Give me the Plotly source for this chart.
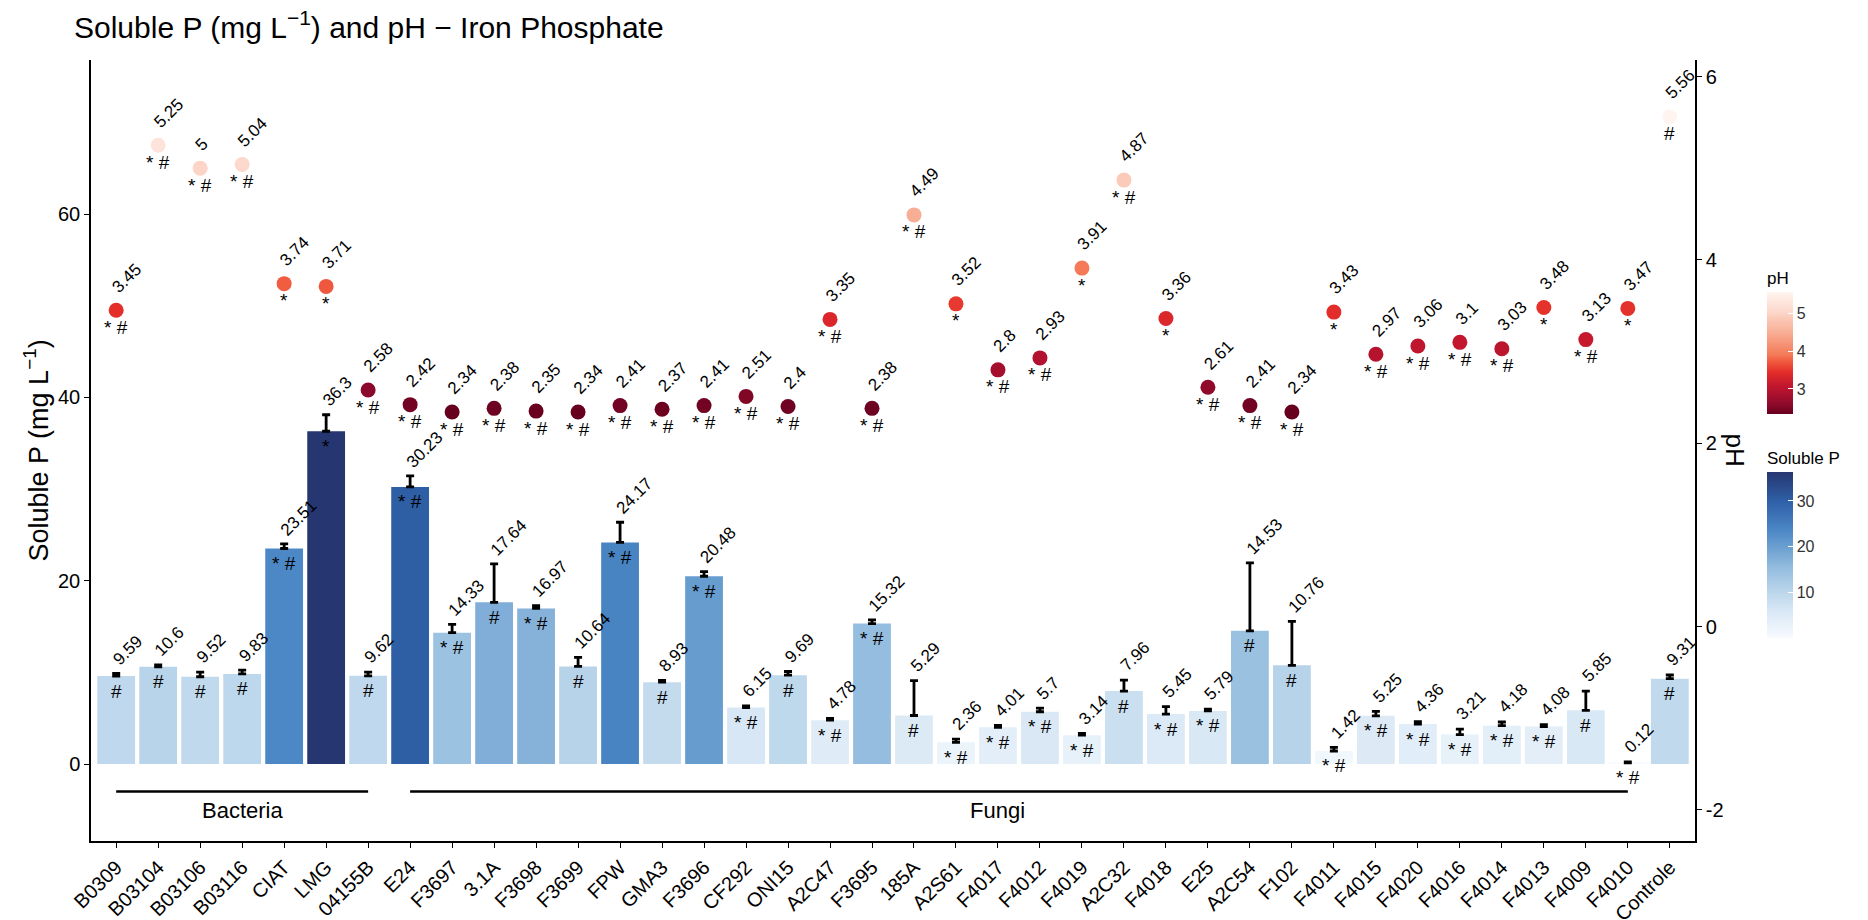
import plotly.graph_objects as go

# ---------------- data ----------------
categories = ["B0309", "B03104", "B03106", "B03116", "CIAT", "LMG", "04155B", "E24",
              "F3697", "3.1A", "F3698", "F3699", "FPW", "GMA3", "F3696", "CF292",
              "ONI15", "A2C47", "F3695", "185A", "A2S61", "F4017", "F4012", "F4019",
              "A2C32", "F4018", "E25", "A2C54", "F102", "F4011", "F4015", "F4020",
              "F4016", "F4014", "F4013", "F4009", "F4010", "Controle"]

soluble_p = [9.59, 10.6, 9.52, 9.83, 23.51, 36.3, 9.62, 30.23,
             14.33, 17.64, 16.97, 10.64, 24.17, 8.93, 20.48, 6.15,
             9.69, 4.78, 15.32, 5.29, 2.36, 4.01, 5.7, 3.14,
             7.96, 5.45, 5.79, 14.53, 10.76, 1.42, 5.25, 4.36,
             3.21, 4.18, 4.08, 5.85, 0.12, 9.31]

soluble_p_sd = [0.3, 0.2, 0.5, 0.4, 0.5, 1.8, 0.4, 1.2,
                0.9, 4.2, 0.3, 1.0, 2.2, 0.2, 0.5, 0.2,
                0.4, 0.2, 0.4, 3.8, 0.35, 0.2, 0.4, 0.2,
                1.2, 0.8, 0.2, 7.4, 4.8, 0.4, 0.5, 0.25,
                0.6, 0.4, 0.2, 2.1, 0.1, 0.4]

ph = [3.45, 5.25, 5, 5.04, 3.74, 3.71, 2.58, 2.42,
      2.34, 2.38, 2.35, 2.34, 2.41, 2.37, 2.41, 2.51,
      2.4, 3.35, 2.38, 4.49, 3.52, 2.8, 2.93, 3.91,
      4.87, 3.36, 2.61, 2.41, 2.34, 3.43, 2.97, 3.06,
      3.1, 3.03, 3.48, 3.13, 3.47, 5.56]

p_marks = ["#", "#", "#", "#", "* #", "*", "#", "* #",
           "* #", "#", "* #", "#", "* #", "#", "* #", "* #",
           "#", "* #", "* #", "#", "* #", "* #", "* #", "* #",
           "#", "* #", "* #", "#", "#", "* #", "* #", "* #",
           "* #", "* #", "* #", "#", "* #", "#"]

ph_marks = ["* #", "* #", "* #", "* #", "*", "*", "* #", "* #",
            "* #", "* #", "* #", "* #", "* #", "* #", "* #", "* #",
            "* #", "* #", "* #", "* #", "*", "* #", "* #", "*",
            "* #", "*", "* #", "* #", "* #", "*", "* #", "* #",
            "* #", "* #", "*", "* #", "*", "#"]

groups = [("Bacteria", "B0309", "04155B"), ("Fungi", "E24", "F4010")]

p_ticks = [0, 20, 40, 60]
ph_ticks = [-2, 0, 2, 4, 6]
ph_cbar_ticks = [3, 4, 5]
p_cbar_ticks = [10, 20, 30]

n = len(categories)
assert all(len(a) == n for a in [soluble_p, soluble_p_sd, ph, p_marks, ph_marks])

# secondary axis transform used in the original: y = 15 + 10 * pH
SEC_OFFSET, SEC_SCALE = 15, 10
y_range = [-8.4, 76.8]
y2_range = [(v - SEC_OFFSET) / SEC_SCALE for v in y_range]

FONT = "Liberation Sans, Arial, Helvetica, sans-serif"

blues = [[0.0, "#f7fbff"], [0.15, "#dbe9f6"], [0.27, "#bdd7ec"], [0.42, "#95bddf"],
         [0.55, "#6b9fd0"], [0.65, "#4b87c5"], [0.82, "#2f61a8"], [1.0, "#263670"]]
reds = [[0.0, "#67001f"], [0.08, "#8e0a2b"], [0.19, "#b4132f"], [0.236, "#c3172e"],
        [0.345, "#e42e2a"], [0.43, "#f05a3f"], [0.486, "#f47a58"], [0.668, "#f8ae95"],
        [0.786, "#fbcab8"], [0.839, "#fcd9cc"], [0.904, "#fde3da"], [1.0, "#fff5f0"]]

fig = go.Figure()

fig.add_trace(go.Bar(
    x=categories, y=soluble_p,
    marker=dict(color=soluble_p, coloraxis="coloraxis", line=dict(width=0)),
    showlegend=False, hoverinfo="x+y"))

# error bars (upper only, caps at both ends)
fig.add_trace(go.Scatter(
    x=categories, y=[v + s / 2 for v, s in zip(soluble_p, soluble_p_sd)],
    mode="markers", marker=dict(size=1, color="rgba(0,0,0,0)"),
    error_y=dict(type="data", array=[s / 2 for s in soluble_p_sd], symmetric=True,
                 color="black", thickness=2.8, width=4),
    showlegend=False, hoverinfo="skip"))

fig.add_trace(go.Scatter(
    x=categories, y=ph, yaxis="y2", mode="markers",
    marker=dict(size=15, color=ph, coloraxis="coloraxis2", line=dict(width=0)),
    showlegend=False, hoverinfo="x+y"))

annotations = []
for c, v, s, m in zip(categories, soluble_p, soluble_p_sd, p_marks):
    annotations.append(dict(x=c, y=v + s, xref="x", yref="y", text=f"{v:g}",
                            textangle=-45, xanchor="left", yanchor="bottom",
                            xshift=-10, yshift=2, showarrow=False,
                            font=dict(family=FONT, size=17, color="black")))
    annotations.append(dict(x=c, y=v, xref="x", yref="y", text=m,
                            xanchor="center", yanchor="middle", yshift=-15,
                            showarrow=False,
                            font=dict(family=FONT, size=19, color="black")))
for c, v, m in zip(categories, ph, ph_marks):
    annotations.append(dict(x=c, y=v, xref="x", yref="y2", text=f"{v:g}",
                            textangle=-45, xanchor="left", yanchor="bottom",
                            xshift=-11, yshift=11, showarrow=False,
                            font=dict(family=FONT, size=17, color="black")))
    annotations.append(dict(x=c, y=v, xref="x", yref="y2", text=m,
                            xanchor="center", yanchor="middle", yshift=-17,
                            showarrow=False,
                            font=dict(family=FONT, size=19, color="black")))

shapes = []
GROUP_Y = -3
for name, a, b in groups:
    ia, ib = categories.index(a), categories.index(b)
    shapes.append(dict(type="line", xref="x", yref="y", x0=a, x1=b,
                       y0=GROUP_Y, y1=GROUP_Y, line=dict(color="black", width=2.6)))
    annotations.append(dict(x=categories[(ia + ib) // 2], y=GROUP_Y, xref="x", yref="y",
                            text=name, xanchor="center", yanchor="top", yshift=-4,
                            showarrow=False,
                            font=dict(family=FONT, size=22, color="black")))

# axis titles
annotations.append(dict(x=-0.0343, y=0.5, xref="paper", yref="paper",
                        text="Soluble P (mg L<sup>−1</sup>)", textangle=-90,
                        xanchor="center", yanchor="middle", showarrow=False,
                        font=dict(family=FONT, size=27, color="black")))
annotations.append(dict(x=1.0255, y=0.5, xref="paper", yref="paper",
                        text="pH", textangle=90,
                        xanchor="center", yanchor="middle", showarrow=False,
                        font=dict(family=FONT, size=26, color="black")))

axis_common = dict(showline=True, linecolor="black", linewidth=1.5, ticks="outside",
                   ticklen=5, tickwidth=1.3, tickcolor="black", showgrid=False,
                   zeroline=False, automargin=False,
                   tickfont=dict(family=FONT, size=20, color="black"))

fig.update_layout(
    width=1868, height=920,
    margin=dict(l=91, r=173, t=60, b=79, autoexpand=False),
    paper_bgcolor="white", plot_bgcolor="white",
    bargap=0.1,
    title=dict(text="Soluble P (mg L<sup>−1</sup>) and pH − Iron Phosphate",
               x=74 / 1868, xanchor="left", xref="container",
               y=1 - 27 / 920, yanchor="middle", yref="container",
               font=dict(family=FONT, size=30, color="black")),
    xaxis=dict(type="category", categoryorder="array", categoryarray=categories,
               range=[-0.6, n - 0.4], tickangle=-45, **axis_common),
    yaxis=dict(range=y_range, tickvals=p_ticks, ticktext=[str(t) for t in p_ticks],
               **axis_common),
    yaxis2=dict(range=y2_range, overlaying="y", side="right",
                tickvals=ph_ticks, ticktext=[str(t) for t in ph_ticks], **axis_common),
    coloraxis=dict(
        colorscale=blues, cmin=min(soluble_p), cmax=max(soluble_p),
        colorbar=dict(title=dict(text="Soluble P", side="top",
                                 font=dict(family=FONT, size=17, color="black")),
                      x=1.0449, xanchor="left", y=(841 - 448) / 781, yanchor="top",
                      len=190, lenmode="pixels", thickness=26, xpad=0, ypad=0,
                      outlinewidth=0, tickvals=p_cbar_ticks, ticks="inside",
                      ticklen=5, tickcolor="white",
                      tickfont=dict(family=FONT, size=16, color="#333333"))),
    coloraxis2=dict(
        colorscale=reds, cmin=min(ph), cmax=max(ph),
        colorbar=dict(title=dict(text="pH", side="top",
                                 font=dict(family=FONT, size=17, color="black")),
                      x=1.0449, xanchor="left", y=(841 - 268) / 781, yanchor="top",
                      len=146, lenmode="pixels", thickness=26, xpad=0, ypad=0,
                      outlinewidth=0, tickvals=ph_cbar_ticks, ticks="inside",
                      ticklen=5, tickcolor="white",
                      tickfont=dict(family=FONT, size=16, color="#333333"))),
    annotations=annotations,
    shapes=shapes,
)

fig.write_html("out.html", config={"displayModeBar": False},
               post_script="document.body.style.margin='0';document.body.style.overflow='hidden';")
